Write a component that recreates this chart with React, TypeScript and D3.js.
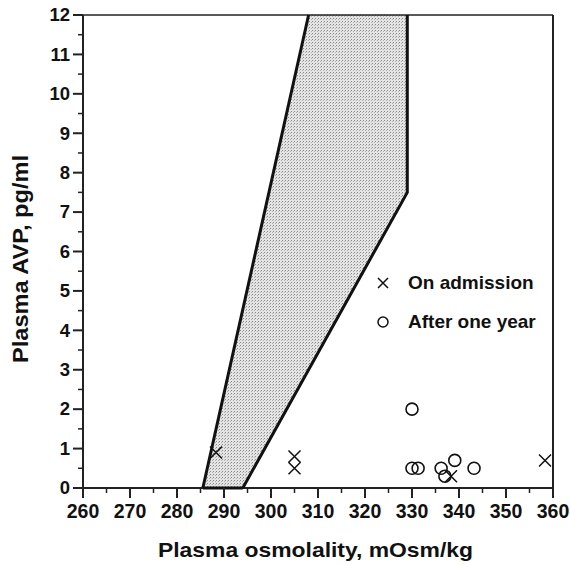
import React from "react";
import * as d3 from "d3";

const xTicks = [260, 270, 280, 290, 300, 310, 320, 330, 340, 350, 360];
const yTicks = [0, 1, 2, 3, 4, 5, 6, 7, 8, 9, 10, 11, 12];
const bandX = [285.5, 308, 329, 329, 294];
const bandY = [0, 12, 12, 7.5, 0];
const admX = [288.3, 305, 305, 338.3, 358.3];
const admY = [0.9, 0.8, 0.5, 0.3, 0.7];
const yearX = [330, 330, 331.3, 336.2, 337, 339.1, 343.2];
const yearY = [2.0, 0.5, 0.5, 0.5, 0.3, 0.7, 0.5];

export default function App() {
  const W = 570, H = 565;
  const L = 83, R = 553, T = 15, B = 488;
  const x = d3.scaleLinear().domain([260, 360]).range([L, R]);
  const y = d3.scaleLinear().domain([0, 12]).range([B, T]);
  const band = d3.line<number>().x((_, i) => x(bandX[i])).y((_, i) => y(bandY[i]));
  const bandPath = band(bandX) + "Z";
  const leftEdge = d3.line<number>().x((i) => x(bandX[i])).y((i) => y(bandY[i]))([0, 1]) || "";
  const rightEdge = d3.line<number>().x((i) => x(bandX[i])).y((i) => y(bandY[i]))([2, 3, 4]) || "";
  const xMinor = d3.range(265, 360, 10);
  const yMinor = d3.range(0.5, 12, 1);
  const font = "Arial, 'Liberation Sans', Helvetica, sans-serif";
  const cs = 6;
  return (
    <svg width={W} height={H} style={{ position: "absolute", left: 0, top: 0 }} fontFamily={font}>
      <defs>
        <pattern id="stip" width="3" height="3" patternUnits="userSpaceOnUse">
          <rect width="3" height="3" fill="#e4e4e4" />
          <rect width="1" height="1" fill="#8a8a8a" />
          <rect x="2" y="1" width="1" height="1" fill="#b0b0b0" />
        </pattern>
      </defs>
      <rect width={W} height={H} fill="#fff" />
      <path d={bandPath} fill="url(#stip)" stroke="none" />
      {/* frame */}
      <line x1={L} x2={R} y1={T} y2={T} stroke="#222" strokeWidth={1.5} />
      <line x1={R} x2={R} y1={T} y2={B} stroke="#222" strokeWidth={2} />
      <line x1={L} x2={L} y1={T} y2={B} stroke="#222" strokeWidth={2} />
      <line x1={L} x2={R} y1={B} y2={B} stroke="#222" strokeWidth={2} />
      {/* band edges */}
      <path d={leftEdge} fill="none" stroke="#111" strokeWidth={3} />
      <path d={rightEdge} fill="none" stroke="#111" strokeWidth={3} />
      <line x1={x(bandX[0])} x2={x(bandX[4])} y1={B} y2={B} stroke="#111" strokeWidth={3} />
      {/* x ticks */}
      {xTicks.map((t) => (
        <g key={"xt" + t}>
          <line x1={x(t)} x2={x(t)} y1={B} y2={B + 10} stroke="#222" strokeWidth={2} />
          <text x={x(t)} y={518} fontSize={19.5} fontWeight="bold" textAnchor="middle" fill="#111">
            {t}
          </text>
        </g>
      ))}
      {xMinor.map((t) => (
        <line key={"xm" + t} x1={x(t)} x2={x(t)} y1={B} y2={B + 5} stroke="#222" strokeWidth={1.5} />
      ))}
      {/* y ticks */}
      {yTicks.map((t) => (
        <g key={"yt" + t}>
          <line x1={L - 10} x2={L} y1={y(t)} y2={y(t)} stroke="#222" strokeWidth={2} />
          <text x={70} y={y(t) + 6.3} fontSize={18.5} fontWeight="bold" textAnchor="end" fill="#111">
            {t}
          </text>
        </g>
      ))}
      {yMinor.map((t) => (
        <line key={"ym" + t} x1={L - 5} x2={L} y1={y(t)} y2={y(t)} stroke="#222" strokeWidth={1.5} />
      ))}
      {/* data */}
      {admX.map((v, i) => (
        <path
          key={"a" + i}
          d={`M${x(v) - cs},${y(admY[i]) - cs}L${x(v) + cs},${y(admY[i]) + cs}M${x(v) - cs},${y(admY[i]) + cs}L${x(v) + cs},${y(admY[i]) - cs}`}
          stroke="#111"
          strokeWidth={1.5}
          fill="none"
        />
      ))}
      {yearX.map((v, i) => (
        <circle key={"c" + i} cx={x(v)} cy={y(yearY[i])} r={6} fill="none" stroke="#111" strokeWidth={1.6} />
      ))}
      {/* legend */}
      <path d={`M${383 - 5},${283 - 5}L${383 + 5},${283 + 5}M${383 - 5},${283 + 5}L${383 + 5},${283 - 5}`} stroke="#111" strokeWidth={1.5} />
      <text x={408} y={289} fontSize={19} fontWeight="bold" fill="#111">On admission</text>
      <circle cx={383} cy={322} r={5} fill="none" stroke="#111" strokeWidth={1.5} />
      <text x={408} y={328} fontSize={19} fontWeight="bold" fill="#111">After one year</text>
      {/* titles */}
      <text x={158} y={557} fontSize={21} fontWeight="bold" fill="#111" textLength={315} lengthAdjust="spacingAndGlyphs">
        Plasma osmolality, mOsm/kg
      </text>
      <text
        transform={`translate(28,363) rotate(-90)`}
        fontSize={21.5}
        fontWeight="bold"
        fill="#111"
        textLength={208}
        lengthAdjust="spacingAndGlyphs"
      >
        Plasma AVP, pg/ml
      </text>
    </svg>
  );
}
